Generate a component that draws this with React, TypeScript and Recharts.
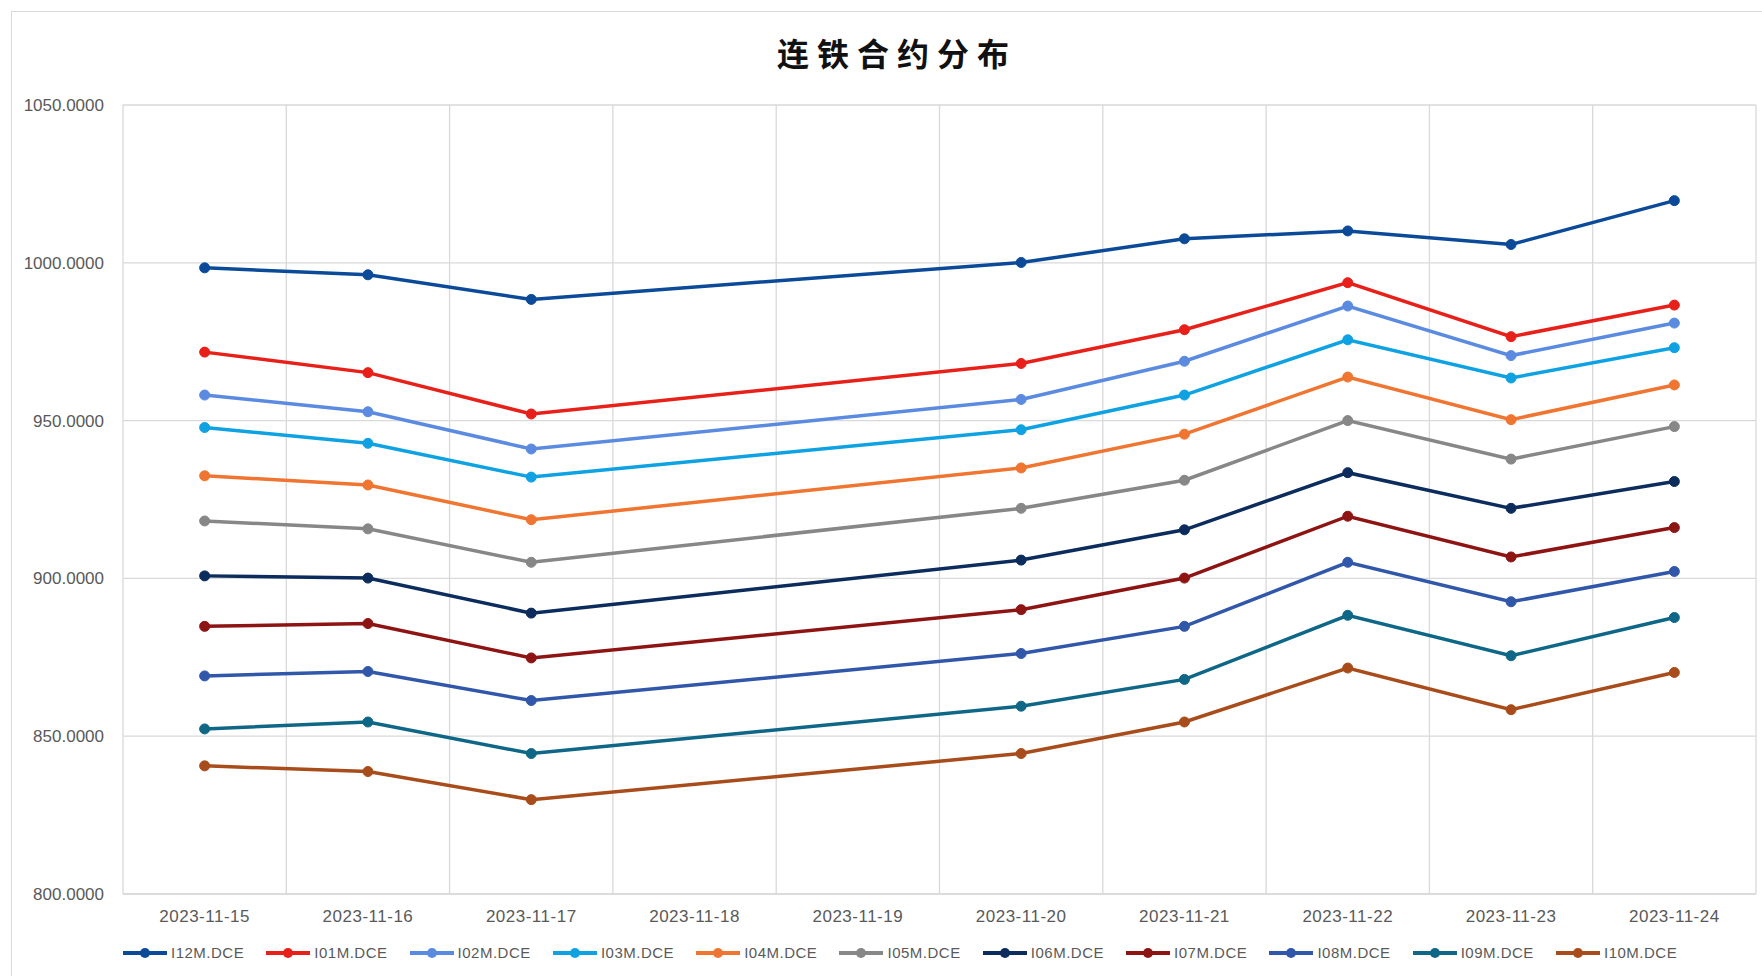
import React from 'react';
import { LineChart, Line, XAxis, YAxis, CartesianGrid, ReferenceLine, Legend } from 'recharts';

const dates = ['2023-11-15', '2023-11-16', '2023-11-17', '2023-11-18', '2023-11-19', '2023-11-20', '2023-11-21', '2023-11-22', '2023-11-23', '2023-11-24'];
const yTicks = [800, 850, 900, 950, 1000, 1050];

const seriesNames = ['I12M.DCE', 'I01M.DCE', 'I02M.DCE', 'I03M.DCE', 'I04M.DCE', 'I05M.DCE', 'I06M.DCE', 'I07M.DCE', 'I08M.DCE', 'I09M.DCE', 'I10M.DCE'];
const seriesColors = ['#0b4a98', '#e8201a', '#5b8be0', '#0ea2e3', '#ef7530', '#878787', '#0b2c5c', '#8e1414', '#3157aa', '#0f6787', '#a94c1b'];

const N = null;
const i12m = [998.4, 996.2, 988.4, N, N, 1000.1, 1007.6, 1010.1, 1005.8, 1019.7];
const i01m = [971.7, 965.2, 952.1, N, N, 968.1, 978.8, 993.7, 976.6, 986.6];
const i02m = [958.1, 952.8, 941.0, N, N, 956.7, 968.8, 986.3, 970.6, 980.9];
const i03m = [947.8, 942.8, 932.1, N, N, 947.1, 958.1, 975.6, 963.5, 973.1];
const i04m = [932.5, 929.6, 918.6, N, N, 935.0, 945.7, 963.8, 950.3, 961.3];
const i05m = [918.2, 915.7, 905.1, N, N, 922.2, 931.1, 950.0, 937.8, 948.1];
const i06m = [900.8, 900.1, 889.0, N, N, 905.8, 915.4, 933.5, 922.2, 930.7];
const i07m = [884.8, 885.7, 874.8, N, N, 890.1, 900.1, 919.7, 906.8, 916.1];
const i08m = [869.1, 870.5, 861.3, N, N, 876.2, 884.8, 905.1, 892.6, 902.2];
const i09m = [852.3, 854.5, 844.5, N, N, 859.5, 868.0, 888.3, 875.5, 887.6];
const i10m = [840.6, 838.8, 829.9, N, N, 844.5, 854.5, 871.6, 858.4, 870.2];

const seriesValues = [i12m, i01m, i02m, i03m, i04m, i05m, i06m, i07m, i08m, i09m, i10m];

const data = dates.map((d, i) => {
  const row: Record<string, number | string | null> = { i, date: d };
  seriesNames.forEach((name, k) => {
    row[name] = seriesValues[k][i];
  });
  return row;
});

const boundaries = Array.from({ length: dates.length + 1 }, (_, k) => k - 0.5);
const tickFont = '"Liberation Sans", Arial, sans-serif';
const gridColor = '#d9d9d9';
const textColor = '#595959';

const renderLegend = () => (
  <div style={{ display: 'flex', alignItems: 'center' }}>
    {seriesNames.map((name, k) => (
      <div key={name} style={{ display: 'flex', alignItems: 'center', width: 143.3, flex: '0 0 143.3px' }}>
        <svg width={44} height={12} style={{ display: 'block' }}>
          <line x1={0} y1={6} x2={44} y2={6} stroke={seriesColors[k]} strokeWidth={4} />
          <circle cx={22} cy={6} r={5} fill={seriesColors[k]} />
        </svg>
        <span style={{ marginLeft: 4, fontFamily: tickFont, fontSize: 15, letterSpacing: 0.5, color: textColor, whiteSpace: 'nowrap' }}>{name}</span>
      </div>
    ))}
  </div>
);

export default function App() {
  return (
    <div style={{ position: 'absolute', left: 0, top: 0, width: 1762, height: 976, background: '#fff', overflow: 'hidden' }}>
      <div style={{ position: 'absolute', left: 11, top: 11, width: 1762, height: 976, border: `1px solid ${gridColor}`, boxSizing: 'border-box' }} />
      <div style={{ position: 'absolute', left: 0, top: 30, width: 1794, textAlign: 'center', fontFamily: '"Noto Sans CJK SC", sans-serif', fontWeight: 700, fontSize: 32, letterSpacing: 8, color: '#111', lineHeight: '44px' }}>
        连铁合约分布
      </div>
      <div style={{ position: 'absolute', left: 0, top: 0 }}>
        <LineChart width={1762} height={976} data={data} margin={{ top: 105, right: 6, bottom: 52, left: 0 }}>
          <CartesianGrid vertical={false} stroke={gridColor} strokeWidth={1.3} />
          {boundaries.map((b) => (
            <ReferenceLine key={b} x={b} stroke={gridColor} strokeWidth={1.3} />
          ))}
          <XAxis
            xAxisId={0}
            dataKey="i"
            type="number"
            domain={[-0.5, 9.5]}
            ticks={dates.map((_, i) => i)}
            tickFormatter={(v: number) => dates[v]}
            axisLine={{ stroke: gridColor, strokeWidth: 1.3 }}
            tickLine={false}
            tick={{ fill: textColor, fontSize: 17, fontFamily: tickFont, letterSpacing: 0.5 }}
            tickMargin={10}
            height={30}
            interval={0}
          />
          <XAxis
            xAxisId="bounds"
            dataKey="i"
            type="number"
            domain={[-0.5, 9.5]}
            ticks={boundaries}
            tick={false}
            axisLine={false}
            tickLine={{ stroke: gridColor, strokeWidth: 1.3 }}
            tickSize={5}
            height={0}
            interval={0}
          />
          <YAxis
            domain={[800, 1050]}
            ticks={yTicks}
            tickFormatter={(v: number) => v.toFixed(4)}
            axisLine={false}
            tickLine={false}
            tick={{ fill: textColor, fontSize: 17, fontFamily: tickFont }}
            tickMargin={13}
            width={123}
          />
          <Legend
            layout="horizontal"
            verticalAlign="middle"
            align="center"
            content={renderLegend}
            wrapperStyle={{ position: 'absolute', left: 123, top: 944, width: 1600, height: 24 }}
          />
          {seriesNames.map((name, k) => (
            <Line
              key={name}
              type="linear"
              dataKey={name}
              xAxisId={0}
              stroke={seriesColors[k]}
              strokeWidth={3.5}
              dot={{ r: 5, fill: seriesColors[k], stroke: seriesColors[k], strokeWidth: 1 }}
              activeDot={false}
              connectNulls
              isAnimationActive={false}
            />
          ))}
        </LineChart>
      </div>
    </div>
  );
}
